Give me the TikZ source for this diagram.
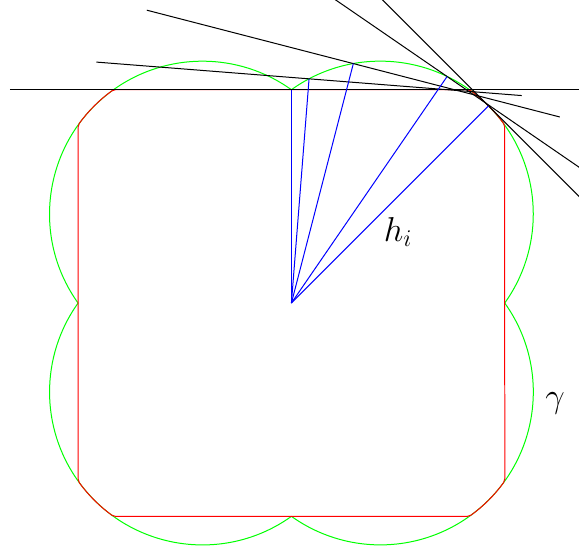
\documentclass[tikz,border=0pt]{standalone}
\usetikzlibrary{calc}
\tikzset{
  curve/.style={red, rounded corners=1pt},
  pedal/.style={green},
  normal/.style={blue},
  support/.style={black},
  lbl/.style={font=\LARGE},
}
% centres of the four circles sit at (+-\dd,+-\dd)
\def\dd{0.417}

\begin{document}
\begin{tikzpicture}[x=3.75cm,y=3.75cm,line width=0.5pt]
  \useasboundingbox (-1.366,-1.1486) rectangle (1.348,1.4205);
  \clip (-1.366,-1.1486) rectangle (1.348,1.4205);
  \pgfmathsetmacro{\rr}{sqrt(\dd*\dd+(1-\dd)*(1-\dd))}
  \pgfmathsetmacro{\al}{atan((1-\dd)/\dd)}
  \pgfmathsetmacro{\aa}{90-\al}
  \pgfmathsetmacro{\ab}{\al-90}
  \pgfmathsetmacro{\ac}{-\al}
  \pgfmathsetmacro{\ad}{\al-180}
  \pgfmathsetmacro{\ae}{-90-\al}
  \pgfmathsetmacro{\af}{90+\al}
  \pgfmathsetmacro{\ag}{180-\al}
  \coordinate (O) at (0,0);
  % pedal curve
  \foreach \k in {0,90,180,270}
    \draw[pedal, rotate=\k] (0,1) arc[start angle=\ag, end angle=\ab, radius=\rr];
  % the curve gamma
  \draw[curve] (2*\dd,1) arc[start angle=\al, end angle=\aa, radius=\rr]
    -- (1,-2*\dd) arc[start angle=\ab, end angle=\ac, radius=\rr]
    -- (-2*\dd,-1) arc[start angle=\ad, end angle=\ae, radius=\rr]
    -- (-1,2*\dd) arc[start angle=\af, end angle=\ag, radius=\rr]
    -- cycle;
  % support lines and their distances
  \foreach \th/\lft/\rgt [count=\i] in {90/1.32/1.5, 85.5/1/1, 75.5/1/1, 55.5/1/1, 45/1/1} {
    \pgfmathsetmacro{\sumcs}{cos(\th)+sin(\th)}
    \pgfmathsetmacro{\hh}{\dd*\sumcs+sqrt(\rr*\rr-2*\dd*\dd+\dd*\dd*\sumcs*\sumcs)}
    \coordinate (P\i) at (\th:\hh);
    \coordinate (L\i) at ($(P\i)+(\th+90:\lft)$);
    \coordinate (R\i) at ($(P\i)+(\th-90:\rgt)$);
    \draw[support] (L\i) -- (R\i);
    \draw[normal] (O) -- (P\i);
  }
  \node[lbl] (hlabel) at (0.50,0.333) {$h_i$};
  \node[lbl] (gamma) at (1.236,-0.469) {$\gamma$};
\end{tikzpicture}
\end{document}
